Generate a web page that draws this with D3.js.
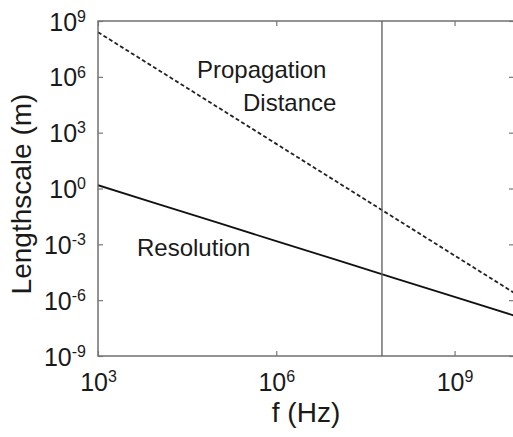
<!DOCTYPE html>
<html>
<head>
<meta charset="utf-8">
<script src="https://cdn.jsdelivr.net/npm/d3@7"></script>
<style>
  body { margin: 0; background: #fff; }
  text { font-family: "Liberation Sans", Arial, sans-serif; fill: #1a1a1a; }
</style>
</head>
<body>
<div class="chart"></div>
<script>
var svgWidth = 513;
var svgHeight = 437;

var margin = { top: 21, right: -1, bottom: 81, left: 98 };
var width = svgWidth - margin.left - margin.right;
var height = svgHeight - margin.top - margin.bottom;

// data
var freq = [1e3, 1e4, 1e5, 1e6, 1e7, 1e8, 1e9, 1e10];
var propagation = [2.5e8, 2.5e6, 2.5e4, 250, 2.5, 2.5e-2, 2.5e-4, 2.5e-6];
var resolution = [1.5, 0.15, 0.015, 1.5e-3, 1.5e-4, 1.5e-5, 1.5e-6, 1.5e-7];
var markerFreq = [6e7];
var xTicks = [3, 6, 9];
var yTicks = [-9, -6, -3, 0, 3, 6, 9];

var svg = d3.select(".chart")
  .append("svg")
  .attr("width", svgWidth)
  .attr("height", svgHeight);

var chartGroup = svg.append("g")
  .attr("transform", `translate(${margin.left}, ${margin.top})`);

var xScale = d3.scaleLog().domain([1e3, 1e10]).range([0, width]);
var yScale = d3.scaleLog().domain([1e-9, 1e9]).range([height, 0]);

// clip so the lines stop at the box
svg.append("defs").append("clipPath").attr("id", "clip")
  .append("rect").attr("width", width).attr("height", height);

var plot = chartGroup.append("g").attr("clip-path", "url(#clip)");

var line = d3.line()
  .x(function(d, i) { return xScale(freq[i]); })
  .y(function(d) { return yScale(d); });

plot.append("path")
  .datum(propagation)
  .attr("d", line)
  .attr("fill", "none")
  .attr("stroke", "#222")
  .attr("stroke-width", 1.8)
  .attr("stroke-dasharray", "4,2.5");

plot.append("path")
  .datum(resolution)
  .attr("d", line)
  .attr("fill", "none")
  .attr("stroke", "#111")
  .attr("stroke-width", 1.8);

plot.selectAll(".marker")
  .data(markerFreq)
  .enter()
  .append("line")
  .attr("x1", d => xScale(d))
  .attr("x2", d => xScale(d))
  .attr("y1", 0)
  .attr("y2", height)
  .attr("stroke", "#666")
  .attr("stroke-width", 1.4);

// box
chartGroup.append("rect")
  .attr("width", width)
  .attr("height", height)
  .attr("fill", "none")
  .attr("stroke", "#666")
  .attr("stroke-width", 1.4);

// inward ticks on all four sides
var xVals = xTicks.map(p => Math.pow(10, p));
var yVals = yTicks.map(p => Math.pow(10, p));

function styleAxis(g) {
  g.select(".domain").remove();
  g.selectAll(".tick line").attr("stroke", "#777").attr("stroke-width", 1.2);
}

var bottomAxis = d3.axisBottom(xScale).tickValues(xVals).tickSizeInner(-5).tickPadding(14);
var topAxis = d3.axisTop(xScale).tickValues(xVals).tickSizeInner(-5).tickFormat("");
var leftAxis = d3.axisLeft(yScale).tickValues(yVals).tickSizeInner(-5).tickPadding(12);
var rightAxis = d3.axisRight(yScale).tickValues(yVals).tickSizeInner(-5).tickFormat("");

var xAxisG = chartGroup.append("g").attr("transform", `translate(0,${height})`).call(bottomAxis).call(styleAxis);
chartGroup.append("g").call(topAxis).call(styleAxis);
var yAxisG = chartGroup.append("g").call(leftAxis).call(styleAxis);
chartGroup.append("g").attr("transform", `translate(${width},0)`).call(rightAxis).call(styleAxis);

// power-of-ten labels
function powerLabel(sel) {
  sel.each(function(d) {
    var t = d3.select(this);
    var p = Math.round(Math.log10(d));
    t.text("").attr("font-size", 25);
    t.append("tspan").text("10");
    t.append("tspan").attr("dy", "-0.55em").attr("font-size", 16).text(p);
  });
}
xAxisG.selectAll(".tick text").call(powerLabel).attr("dy", "0.85em");
yAxisG.selectAll(".tick text").call(powerLabel).attr("dy", "0.36em");

// axis titles
svg.append("text")
  .attr("x", margin.left + width / 2)
  .attr("y", 422)
  .attr("text-anchor", "middle")
  .attr("font-size", 28)
  .text("f (Hz)");

svg.append("text")
  .attr("transform", "translate(31,194) rotate(-90)")
  .attr("text-anchor", "middle")
  .attr("font-size", 28)
  .text("Lengthscale (m)");

// curve annotations
svg.append("text").attr("x", 197).attr("y", 78).attr("font-size", 24).text("Propagation");
svg.append("text").attr("x", 243).attr("y", 111).attr("font-size", 24).text("Distance");
svg.append("text").attr("x", 137).attr("y", 256).attr("font-size", 24).text("Resolution");
</script>
</body>
</html>
